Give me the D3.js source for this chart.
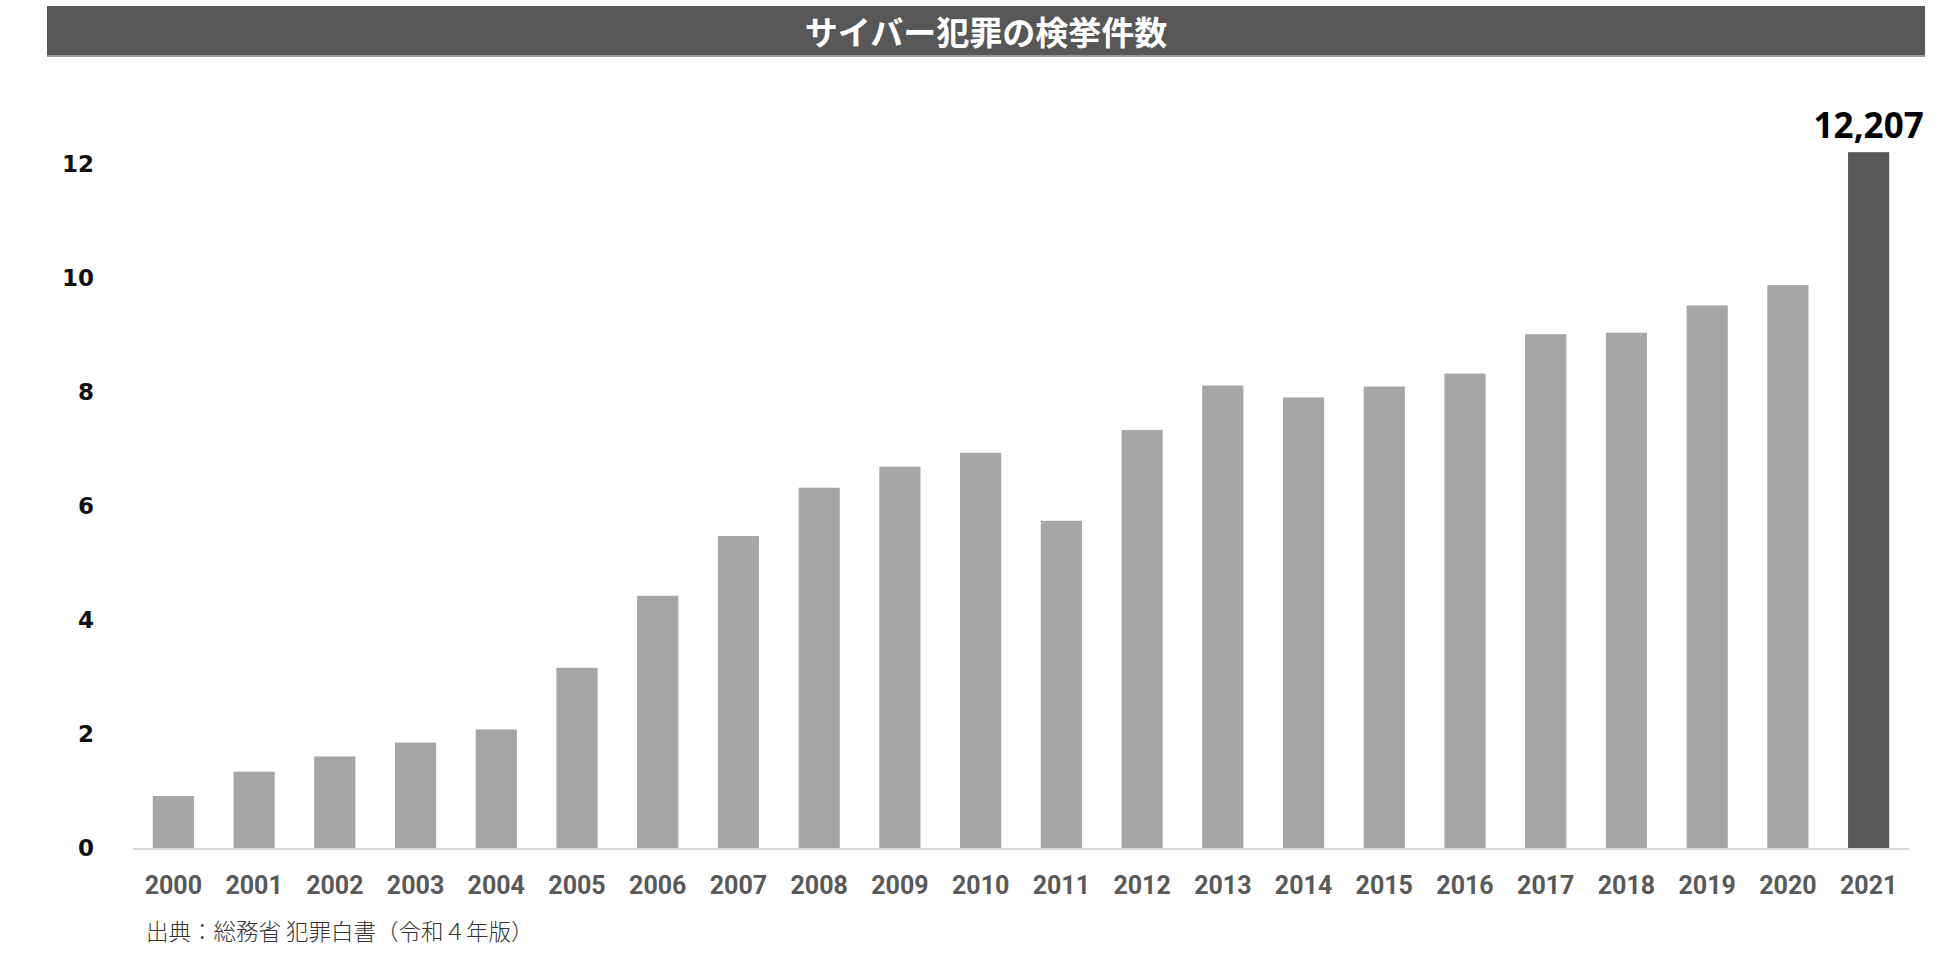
<!DOCTYPE html>
<html>
<head>
<meta charset="utf-8">
<script src="https://cdn.jsdelivr.net/npm/d3@7"></script>
<style>
  body { margin:0; background:#fff; }
  svg { display:block; }
</style>
</head>
<body>
<svg id="chart" width="1950" height="960"></svg>
<script>
// data ----------------------------------------
var years = ['2000','2001','2002','2003','2004','2005','2006','2007','2008','2009','2010',
  '2011','2012','2013','2014','2015','2016','2017','2018','2019','2020','2021'];
var counts = [913,1339,1606,1849,2081,3161,4425,5473,6321,6690,6933,
  5741,7334,8113,7905,8096,8324,9014,9040,9519,9875,12207];
var yTicks = [0,2000,4000,6000,8000,10000,12000];
var titleText = 'サイバー犯罪の検挙件数';
var sourceText = '出典：総務省 犯罪白書（令和４年版）';

var svg = d3.select('#chart');

// title bar
svg.append('rect')
  .attr('x',47).attr('y',6)
  .attr('width',1878).attr('height',50)
  .attr('fill','#575757');
svg.append('rect')
  .attr('x',47).attr('y',55)
  .attr('width',1878).attr('height',2)
  .attr('fill','#9a9a9a');
svg.append('text')
  .text(titleText)
  .attr('x',986).attr('y',31)
  .attr('text-anchor','middle')
  .attr('dominant-baseline','central')
  .style('font-family','"Noto Sans CJK JP", sans-serif')
  .style('font-weight','bold')
  .style('font-size','33px')
  .attr('fill','#fff');

// scales
var xScale = d3.scaleBand()
  .domain(years)
  .range([133,1909])
  .paddingInner(0.49)
  .paddingOuter(0.245);

var yScale = d3.scaleLinear()
  .domain([0,12000])
  .range([848,164]);

// bars
svg.append('g').selectAll('rect')
  .data(counts)
  .enter()
  .append('rect')
  .attr('x',(d,i)=>xScale(years[i]))
  .attr('y',(d)=>yScale(d))
  .attr('width',xScale.bandwidth())
  .attr('height',(d)=>yScale(0)-yScale(d))
  .attr('fill',(d,i)=> i==counts.length-1 ? '#595959' : '#a6a6a6');

// baseline
svg.append('line')
  .attr('x1',133).attr('x2',1909)
  .attr('y1',yScale(0)+1).attr('y2',yScale(0)+1)
  .attr('stroke','#d9d9d9')
  .attr('stroke-width',2);

// y axis
var yAxisGen = d3.axisLeft(yScale)
  .tickValues(yTicks)
  .tickSize(0)
  .tickPadding(0)
  .tickFormat((d)=>d/1000);

var yAxis = svg.append('g')
  .attr('transform','translate(94,0)')
  .call(yAxisGen);
yAxis.select('.domain').remove();
yAxis.selectAll('text')
  .style('font-family','"DejaVu Sans", sans-serif')
  .style('font-weight','bold')
  .style('font-size','23px')
  .attr('fill','#111');

// x axis
var xAxisGen = d3.axisBottom(xScale).tickSize(0).tickPadding(0);
var xAxis = svg.append('g')
  .attr('transform','translate(0,876)')
  .call(xAxisGen);
xAxis.select('.domain').remove();
xAxis.selectAll('text')
  .style('font-family','"Liberation Sans Narrow", "Roboto", sans-serif')
  .style('font-weight','bold')
  .style('font-size','25px')
  .attr('fill','#595959');

// last value label
var last = counts.length-1;
svg.append('text')
  .text(d3.format(',')(counts[last]))
  .attr('x',xScale(years[last])+xScale.bandwidth()/2)
  .attr('y',yScale(counts[last])-14)
  .attr('text-anchor','middle')
  .style('font-family','"Noto Sans", sans-serif')
  .style('font-weight','bold')
  .style('font-size','35px')
  .attr('fill','#000');

// source
svg.append('text')
  .text(sourceText)
  .attr('x',146).attr('y',940)
  .style('font-family','"Noto Sans CJK JP", sans-serif')
  .style('font-weight','300')
  .style('font-size','22.5px')
  .attr('fill','#333');
</script>
</body>
</html>
